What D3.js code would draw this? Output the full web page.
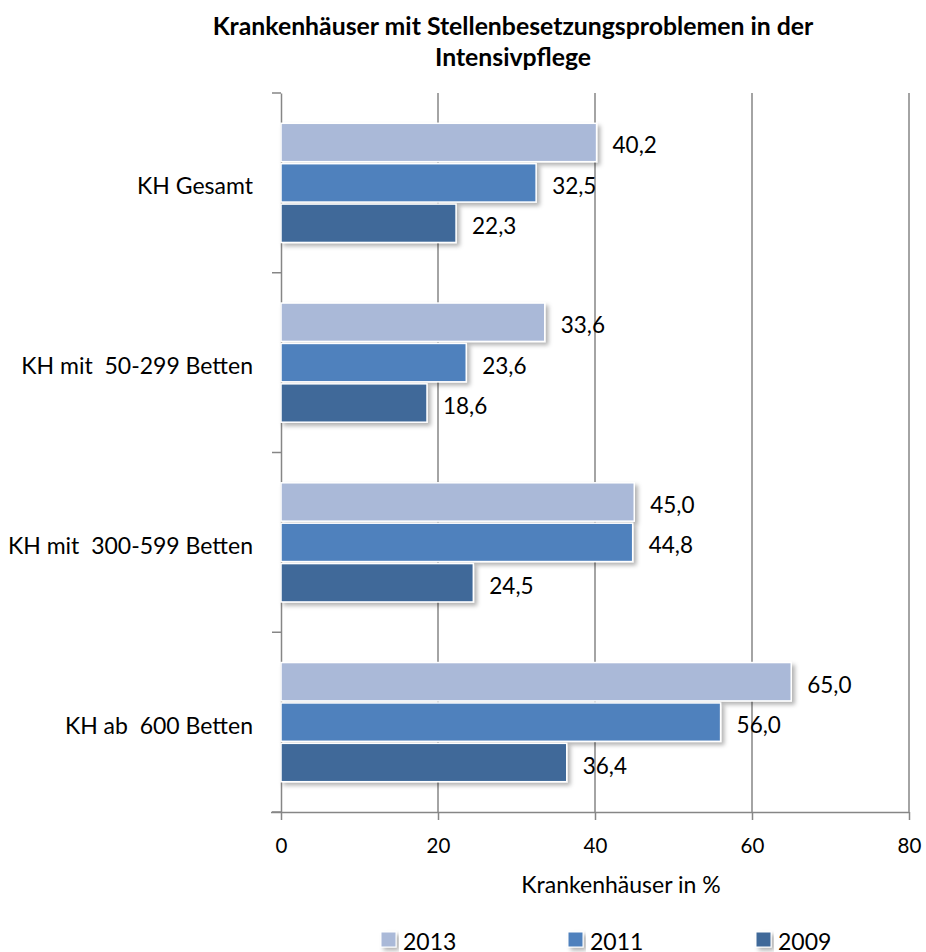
<!DOCTYPE html>
<html>
<head>
<meta charset="utf-8">
<script src="https://cdn.jsdelivr.net/npm/d3@7"></script>
<style>
  html, body { margin: 0; padding: 0; background: #fff; }
  svg { display: block; font-family: Lato, "Open Sans", sans-serif; }
  svg text { white-space: pre; }
</style>
</head>
<body>
<svg id="chart" width="926" height="952"></svg>
<script>
// Hospitals with staffing problems in intensive care, by size class and survey year
const categories = ["KH Gesamt", "KH mit  50-299 Betten", "KH mit  300-599 Betten", "KH ab  600 Betten"];
const years = ["2013", "2011", "2009"];
const values2013 = [40.2, 33.6, 45.0, 65.0];
const values2011 = [32.5, 23.6, 44.8, 56.0];
const values2009 = [22.3, 18.6, 24.5, 36.4];
const xTicks = [0, 20, 40, 60, 80];
const colors = ["#aab9d8", "#4f81bd", "#3f6999"];

const seriesValues = [values2013, values2011, values2009];
const rows = categories.map((c, i) => ({
  category: c,
  bars: years.map((y, k) => ({ year: y, value: seriesValues[k][i], color: colors[k] }))
}));

const svg = d3.select("#chart");
const margin = { left: 281, right: 17, top: 93, bottom: 140 };
const W = 926, H = 952;

const x = d3.scaleLinear().domain([0, 80]).range([margin.left, W - margin.right]);
const y = d3.scaleBand().domain(categories).range([margin.top, H - margin.bottom]).paddingInner(0).paddingOuter(0);
const inner = d3.scaleBand().domain(years).range([0, y.bandwidth()]).paddingInner(0.05).paddingOuter(0.75);

const defs = svg.append("defs");
const f = defs.append("filter").attr("id", "shadow").attr("x", "-10%").attr("y", "-20%").attr("width", "130%").attr("height", "160%");
f.append("feDropShadow").attr("dx", 3).attr("dy", 3).attr("stdDeviation", 2)
  .attr("flood-color", "#000").attr("flood-opacity", 0.3);

// Title
svg.append("text")
  .attr("x", 513).attr("y", 35).attr("text-anchor", "middle")
  .attr("font-weight", "bold").attr("font-size", 24.8)
  .selectAll("tspan").data(["Krankenhäuser mit Stellenbesetzungsproblemen in der", "Intensivpflege"])
  .join("tspan").attr("x", 513).attr("dy", (d, i) => i === 0 ? 0 : 31).text(d => d);

// Vertical gridlines
svg.append("g").selectAll("line").data(xTicks.slice(1)).join("line")
  .attr("x1", d => x(d)).attr("x2", d => x(d))
  .attr("y1", margin.top).attr("y2", H - margin.bottom)
  .attr("stroke", "#868686").attr("stroke-width", 1.5);

// Bottom axis
const xAxis = d3.axisBottom(x).tickValues(xTicks).tickSize(8).tickPadding(18).tickFormat(d3.format("d"));
const gx = svg.append("g").attr("transform", `translate(0,${H - margin.bottom})`).call(xAxis);
gx.select(".domain").attr("d", `M${margin.left - 10},0.5H${x(80)}`).attr("stroke", "#868686").attr("stroke-width", 1.5);
gx.selectAll(".tick line").attr("stroke", "#868686").attr("stroke-width", 1.5);
gx.selectAll(".tick text").attr("font-size", 20.5).attr("font-family", "Lato, sans-serif").attr("fill", "#000");

// Left axis
const yAxis = d3.axisLeft(y).tickSize(0).tickPadding(28);
const gy = svg.append("g").attr("transform", `translate(${margin.left},0)`).call(yAxis);
gy.select(".domain").attr("stroke", "#868686").attr("stroke-width", 1.5);
gy.selectAll(".tick text").attr("font-size", 23).attr("font-family", "Lato, sans-serif")
  .attr("fill", "#000").attr("dy", "0.5em");
// Category separators
const bounds = categories.map(c => y(c)).concat([y.range()[1]]);
svg.append("g").selectAll("line").data(bounds).join("line")
  .attr("x1", margin.left - 9).attr("x2", margin.left)
  .attr("y1", d => d).attr("y2", d => d)
  .attr("stroke", "#868686").attr("stroke-width", 1.5);

// Bars
const groups = svg.append("g").selectAll("g").data(rows).join("g")
  .attr("transform", d => `translate(0,${y(d.category)})`);
groups.selectAll("rect").data(d => d.bars).join("rect")
  .attr("x", x(0))
  .attr("y", d => inner(d.year))
  .attr("width", d => x(d.value) - x(0))
  .attr("height", inner.bandwidth())
  .attr("fill", d => d.color)
  .attr("stroke", "#fff").attr("stroke-width", 1.5)
  .attr("filter", "url(#shadow)");
groups.selectAll("text").data(d => d.bars).join("text")
  .attr("x", d => x(d.value) + 16)
  .attr("y", d => inner(d.year) + inner.bandwidth() / 2 + 11)
  .attr("font-size", 22.5).attr("fill", "#000")
  .text(d => d3.format(".1f")(d.value).replace(".", ","));

// Axis title
svg.append("text").attr("x", 621).attr("y", 893).attr("text-anchor", "middle")
  .attr("font-size", 23).text("Krankenhäuser in %");

// Legend
const legendX = [381, 568, 756];
const lg = svg.append("g").selectAll("g").data(years).join("g")
  .attr("transform", (d, i) => `translate(${legendX[i]},932)`);
lg.append("rect").attr("width", 15).attr("height", 15).attr("fill", (d, i) => colors[i])
  .attr("stroke", "#fff").attr("stroke-width", 1).attr("filter", "url(#shadow)");
lg.append("text").attr("x", 22).attr("y", 18).attr("font-size", 23).text(d => d);
</script>
</body>
</html>
